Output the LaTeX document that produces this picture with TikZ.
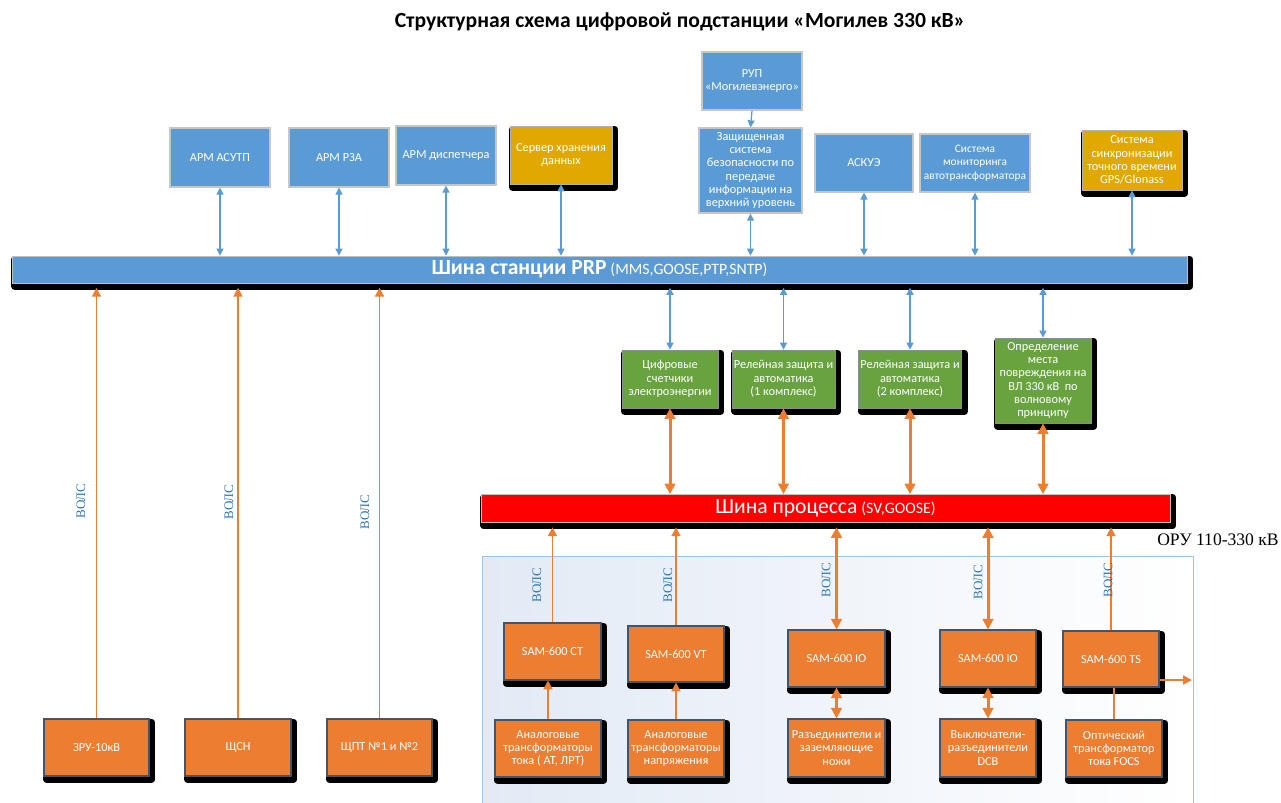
\documentclass[tikz,border=0pt]{standalone}
\usepackage{fontspec}
\setmainfont{Carlito}
\newfontfamily\serifru{Liberation Serif}
\usetikzlibrary{arrows.meta,shadows}

\definecolor{busblue}{RGB}{91,155,213}
\definecolor{darkblue}{RGB}{46,117,182}
\definecolor{gold}{RGB}{224,168,0}
\definecolor{leaf}{RGB}{104,163,64}
\definecolor{rust}{RGB}{237,125,49}
\definecolor{slate}{RGB}{68,84,106}
\definecolor{haze}{RGB}{226,234,245}
\definecolor{frame}{RGB}{157,195,230}

\tikzset{
  box/.style={rectangle, align=center, text=white, inner sep=1pt,
    font=\fontsize{7}{7.6}\selectfont},
  blackshadow/.style={general shadow={fill=black, draw=black, line width=4pt,
    line join=round, shadow xshift=1.6pt, shadow yshift=-1.8pt}},
  bluebox/.style={box, fill=busblue, draw=gray!45, line width=0.7pt,
    general shadow={fill=darkblue, shadow xshift=0.8pt, shadow yshift=-0.8pt}},
  goldbox/.style={box, fill=gold, draw=gray!60, blackshadow},
  greenbox/.style={box, fill=leaf, draw=black!45, blackshadow},
  orangebox/.style={box, fill=rust, draw=slate, line width=0.6pt, blackshadow},
  busbar/.style={rectangle, inner sep=0pt, text=white, draw=gray!50, blackshadow},
  vols/.style={rotate=90, text=darkblue, inner sep=1pt,
    font=\serifru\fontsize{7.4}{8}\selectfont},
  blink/.style={draw=busblue, line width=0.7pt,
    {Triangle[length=4pt,width=4pt]}-{Triangle[length=4pt,width=4pt]}},
  bdown/.style={draw=busblue, line width=0.7pt, -{Triangle[length=4pt,width=4pt]}},
  olink/.style={draw=rust, line width=1.1pt, -{Triangle[length=5pt,width=5pt]}},
  othick/.style={draw=rust, line width=1.7pt,
    {Triangle[length=6pt,width=6pt]}-{Triangle[length=6pt,width=6pt]}},
  oplain/.style={draw=rust, line width=1pt}
}

\begin{document}
\begin{tikzpicture}[x=0.02cm, y=-0.02cm]
  \useasboundingbox (0,0) rectangle (1281,803);

  % area of the 110-330 kV switchyard
  \draw[frame, left color=haze, right color=white] (482,556) rectangle (1193,806);

  \node (title) at (680,22) {\fontsize{12.3}{14}\selectfont\bfseries Структурная схема цифровой подстанции «Могилев 330 кВ»};

  % upper level
  \node[bluebox, minimum width=2cm, minimum height=1.18cm] (asutp) at (220,157.5) {АРМ АСУТП};
  \node[bluebox, minimum width=2cm, minimum height=1.18cm] (rza) at (339,157.5) {АРМ РЗА};
  \node[bluebox, minimum width=2cm, minimum height=1.18cm] (disp) at (446,155.5) {АРМ диспетчера};
  \node[goldbox, minimum width=2.04cm, minimum height=1.16cm] (server) at (561,155) {Сервер хранения\\данных};
  \node[bluebox, minimum width=2cm, minimum height=1.16cm] (rup) at (752,81) {РУП\\«Могилевэнерго»};
  \node[bluebox, minimum width=2.06cm, minimum height=1.7cm] (zss) at (750.5,170.5)
    {Защищенная\\система\\безопасности по\\передаче\\информации на\\верхний уровень};
  \node[bluebox, minimum width=1.96cm, minimum height=1.16cm] (askue) at (864,163) {АСКУЭ};
  \node[bluebox, minimum width=2.2cm, minimum height=1.16cm, font=\fontsize{6.5}{7.6}\selectfont] (monitor) at (975,163)
    {Система\\мониторинга\\автотрансформатора};
  \node[goldbox, minimum width=2cm, minimum height=1.2cm] (sync) at (1132,160)
    {Система\\синхронизации\\точного времени\\GPS/Glonass};

  % station bus
  \node[busbar, fill=busblue, minimum width=23.5cm, minimum height=0.54cm] (sbus) at (599.5,269.5)
    {{\fontsize{12.3}{13}\selectfont\bfseries Шина станции PRP} {\fontsize{9}{10}\selectfont(MMS,GOOSE,PTP,SNTP)}};

  % bay level
  \node[greenbox, minimum width=1.92cm, minimum height=1.16cm] (cnt) at (670,379) {Цифровые\\счетчики\\электроэнергии};
  \node[greenbox, minimum width=1.94cm, minimum height=1.16cm] (rz1) at (783.5,379) {Релейная защита и\\автоматика\\(1 комплекс)};
  \node[greenbox, minimum width=1.96cm, minimum height=1.16cm] (rz2) at (910,379) {Релейная защита и\\автоматика\\(2 комплекс)};
  \node[greenbox, minimum width=1.92cm, minimum height=1.7cm] (omp) at (1043,380.5)
    {Определение\\места\\повреждения на\\ВЛ 330 кВ\ \ по\\волновому\\принципу};

  % process bus
  \node[busbar, fill=red, minimum width=13.78cm, minimum height=0.56cm] (pbus) at (825.5,508.5)
    {{\fontsize{12.3}{13}\selectfont Шина процесса} {\fontsize{9}{10}\selectfont(SV,GOOSE)}};
  \node[anchor=east, inner sep=0pt, font=\serifru\fontsize{10}{12}\selectfont] (oru) at (1279,540) {ОРУ 110-330 кВ};

  % 10 kV and auxiliaries
  \node[orangebox, minimum width=2.1cm, minimum height=1.14cm] (zru) at (96.5,747.5) {ЗРУ-10кВ};
  \node[orangebox, minimum width=2.12cm, minimum height=1.14cm] (shsn) at (238,747.5) {ЩСН};
  \node[orangebox, minimum width=2.1cm, minimum height=1.14cm] (shpt) at (379.5,747.5) {ЩПТ №1 и №2};

  % merging units
  \node[orangebox, minimum width=1.94cm, minimum height=1.14cm] (samct) at (552.5,651.5) {SAM-600 CT};
  \node[orangebox, minimum width=1.92cm, minimum height=1.12cm] (samvt) at (676,654) {SAM-600 VT};
  \node[orangebox, minimum width=1.94cm, minimum height=1.14cm] (samio1) at (836.5,658.5) {SAM-600 IO};
  \node[orangebox, minimum width=1.92cm, minimum height=1.14cm] (samio2) at (988,658.5) {SAM-600 IO};
  \node[orangebox, minimum width=1.92cm, minimum height=1.12cm] (samts) at (1111,659) {SAM-600 TS};

  % primary equipment
  \node[orangebox, minimum width=2.12cm, minimum height=1.14cm] (att) at (548,748.5) {Аналоговые\\трансформаторы\\тока ( АТ, ЛРТ)};
  \node[orangebox, minimum width=1.92cm, minimum height=1.14cm] (atn) at (676,748.5) {Аналоговые\\трансформаторы\\напряжения};
  \node[orangebox, minimum width=1.94cm, minimum height=1.16cm] (razd) at (836.5,748) {Разъединители и\\заземляющие\\ножи};
  \node[orangebox, minimum width=1.92cm, minimum height=1.16cm] (dcb) at (988,748) {Выключатели-\\разъединители\\DCB};
  \node[orangebox, minimum width=1.92cm, minimum height=1.14cm] (focs) at (1114,748.5) {Оптический\\трансформатор\\тока FOCS};

  % links to the station bus
  \foreach \n in {asutp,rza,disp,server,zss,askue,monitor,sync}
    \draw[blink] (\n.south) -- (\n.south |- sbus.north);
  \draw[bdown] (rup.south) -- (zss.north);
  \foreach \n in {cnt,rz1,rz2,omp} {
    \draw[blink, shorten >=2.5pt] (\n.north) -- (\n.north |- sbus.south);
    \draw[othick] (\n.south) -- (\n.south |- pbus.north);
  }
  \foreach \n in {zru,shsn,shpt}
    \draw[olink, shorten >=2.5pt] (\n.north) -- (\n.north |- sbus.south);

  % links to the process bus
  \foreach \n in {samct,samvt,samts}
    \draw[olink, shorten >=2.5pt] (\n.north) -- (\n.north |- pbus.south);
  \foreach \n in {samio1,samio2}
    \draw[othick, shorten >=2.5pt] (\n.north) -- (\n.north |- pbus.south);

  \draw[olink] (att.north) -- (att.north |- samct.south);
  \draw[olink] (atn.north) -- (samvt.south);
  \draw[othick] (razd.north) -- (samio1.south);
  \draw[othick] (dcb.north) -- (samio2.south);
  \draw[oplain] (focs.north) -- (focs.north |- samts.south);
  \coordinate (tsout) at (1192,680);
  \draw[olink] (samts.east |- tsout) -- (tsout);

  \foreach \p [count=\i] in {(81,501),(229,502),(365,512),(537,585),(668,585),(826,580),(978,582),(1108,580)}
    \node[vols] (vols\i) at \p {ВОЛС};
\end{tikzpicture}
\end{document}
